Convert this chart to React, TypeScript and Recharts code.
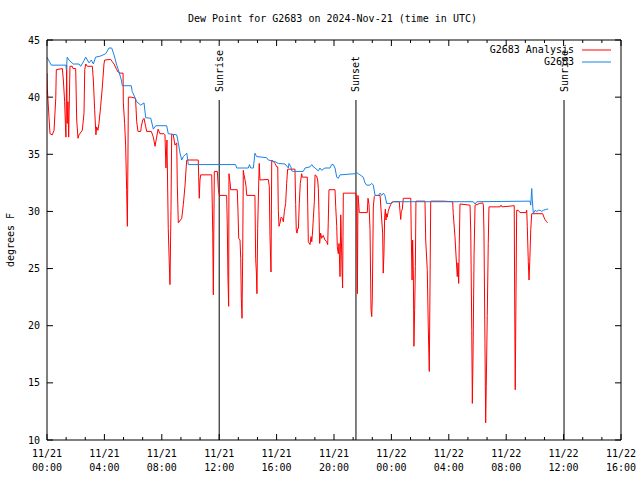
import React from 'react'
import { LineChart, Line, XAxis, YAxis, ReferenceLine, Legend } from 'recharts'

// hours since 2024-11-21 00:00 UTC
const analysisHours = [
  0, 0.02, 0.14, 0.21, 0.37, 0.49, 0.61, 0.65, 1.07, 1.14, 1.23, 1.28, 1.32, 1.37, 1.41, 1.46, 1.51, 1.6, 1.76, 1.81,
  2.0, 2.07, 2.16, 2.23, 2.46, 2.58, 2.63, 2.7, 2.81, 3.16, 3.23, 3.32, 3.41, 3.46, 3.55, 3.62, 3.74, 3.85, 3.97, 4.02,
  4.44, 4.55, 4.67, 4.86, 4.95, 5.09, 5.3, 5.32, 5.41, 5.48, 5.55, 5.6, 5.64, 5.67, 5.87, 6.17, 6.25, 6.34, 6.53, 6.57,
  6.67, 6.76, 6.88, 6.95, 7.27, 7.41, 7.53, 7.64, 7.74, 7.87, 8.15, 8.22, 8.29, 8.36, 8.45, 8.52, 8.57, 8.64, 8.69, 8.8,
  8.92, 9.04, 9.08, 9.15, 9.39, 9.5, 9.62, 9.69, 9.74, 10.54, 10.61, 10.66, 10.71, 11.48, 11.55, 11.59, 11.66, 11.87, 11.94, 12.01,
  12.52, 12.56, 12.61, 12.66, 12.68, 12.75, 12.8, 13.26, 13.31, 13.36, 13.45, 13.5, 13.54, 13.59, 13.64, 13.68, 13.73, 13.8, 13.87, 13.92,
  14.49, 14.54, 14.59, 14.63, 14.68, 14.75, 14.79, 14.84, 15.42, 15.49, 15.54, 15.61, 15.66, 15.77, 15.89, 16.01, 16.08, 16.12, 16.17, 16.24,
  16.31, 16.4, 16.47, 16.54, 16.63, 16.7, 16.77, 17.28, 17.33, 17.37, 17.42, 17.47, 17.52, 17.58, 17.65, 17.75, 17.79, 18.14, 18.17, 18.21,
  18.33, 18.4, 18.45, 18.49, 18.56, 18.63, 18.68, 18.79, 18.86, 18.91, 18.95, 19.0, 19.07, 19.14, 19.25, 19.37, 19.49, 19.56, 19.6, 19.65,
  20.07, 20.12, 20.19, 20.23, 20.3, 20.35, 20.42, 20.47, 20.51, 20.56, 20.6, 20.65, 21.53, 21.58, 21.63, 21.67, 21.72, 21.76, 22.32, 22.37,
  22.44, 22.51, 22.58, 22.63, 22.67, 22.74, 22.81, 22.86, 23.21, 23.39, 23.43, 23.48, 23.53, 23.58, 23.62, 23.67, 23.71, 23.78, 23.85, 23.95,
  24.02, 24.13, 24.55, 24.6, 24.65, 24.69, 24.76, 24.83, 25.35, 25.39, 25.44, 25.48, 25.53, 25.57, 25.62, 25.67, 25.71, 26.34, 26.39, 26.5,
  26.57, 26.64, 26.69, 26.74, 27.62, 28.27, 28.31, 28.43, 28.5, 28.59, 28.64, 28.69, 28.73, 28.78, 29.48, 29.53, 29.6, 29.64, 29.69, 29.76,
  29.83, 30.17, 30.36, 30.41, 30.45, 30.52, 30.57, 30.61, 30.68, 30.75, 30.8, 31.57, 31.64, 31.71, 32.56, 32.59, 32.63, 32.68, 32.73, 32.84,
  32.96, 33.38, 33.43, 33.47, 33.54, 33.59, 33.64, 33.71, 33.78, 34.54, 34.63, 34.7, 34.82, 34.89
]
const analysisValues = [
  42.1, 40.8, 38.2, 36.8, 36.7, 37.1, 39.9, 42.4, 42.5, 41.5, 39.6, 37.7, 36.5, 42.8, 37.7, 39.6, 36.5, 42.7, 42.7, 42.5,
  42.5, 38.0, 36.4, 36.7, 37.1, 38.6, 42.4, 42.9, 42.7, 42.7, 41.5, 38.9, 36.7, 37.4, 37.1, 37.7, 39.2, 40.8, 42.9, 43.25,
  43.3, 43.1, 42.9, 42.4, 42.2, 42.1, 42.1, 39.5, 37.7, 35.8, 31.9, 28.7, 34.5, 40.0, 40.0, 39.9, 37.85, 37.0, 37.0, 37.4,
  38.0, 38.15, 37.4, 37.0, 37.0, 36.5, 35.7, 36.5, 37.2, 36.8, 36.8, 36.7, 33.8, 36.25, 28.5, 25.5, 23.6, 30.1, 36.75, 36.7,
  35.8, 36.0, 32.3, 29.0, 29.4, 30.6, 32.3, 33.7, 34.5, 34.5, 31.15, 32.75, 33.2, 33.2, 28.1, 22.7, 33.5, 33.5, 32.0, 31.4,
  31.4, 29.0, 24.2, 21.7, 33.3, 32.6, 31.9, 31.9, 30.0, 27.65, 27.5, 25.9, 22.4, 20.65, 26.6, 33.6, 33.2, 32.75, 32.2, 31.4,
  31.4, 25.9, 24.7, 22.8, 28.5, 32.3, 34.2, 32.75, 32.8, 32.2, 27.8, 24.7, 34.5, 34.35, 34.2, 33.9, 33.9, 30.1, 28.7, 29.0,
  29.5, 29.4, 29.1, 30.0, 30.7, 32.45, 33.7, 33.7, 30.6, 28.4, 28.1, 28.5, 28.5, 30.7, 32.45, 33.3, 33.0, 33.0, 30.4, 27.35,
  27.1, 27.8, 27.35, 27.9, 29.4, 30.85, 33.2, 33.1, 32.75, 32.0, 30.1, 27.2, 28.1, 27.65, 27.9, 27.5, 27.35, 27.1, 29.0, 31.9,
  31.9, 30.4, 28.7, 26.9, 26.3, 27.2, 24.3, 29.7, 27.8, 24.9, 23.3, 31.6, 31.6, 30.85, 22.8, 31.4, 30.7, 29.9, 29.9, 31.15,
  30.6, 28.4, 21.4, 20.8, 22.5, 30.4, 31.3, 31.4, 31.4, 28.1, 24.6, 26.3, 29.5, 30.2, 29.25, 29.8, 29.5, 30.0, 30.3, 30.6,
  30.8, 30.85, 30.85, 30.0, 29.3, 30.0, 30.2, 31.15, 31.15, 27.5, 24.0, 27.5, 24.6, 18.2, 21.4, 25.2, 30.9, 30.9, 27.5, 24.9,
  19.9, 16.0, 23.4, 30.9, 30.9, 30.85, 29.8, 27.8, 26.2, 24.3, 25.5, 23.7, 27.1, 30.65, 30.55, 28.2, 19.6, 13.2, 17.6, 26.2,
  30.55, 30.7, 30.75, 30.55, 28.2, 18.5, 11.5, 14.7, 20.9, 27.2, 30.4, 30.4, 30.55, 30.4, 30.5, 22.5, 14.4, 22.25, 30.1, 30.1,
  29.9, 29.9, 30.1, 28.7, 25.6, 24.0, 25.5, 28.4, 29.8, 29.8, 29.5, 29.3, 29.1, 29.0
]

const stationHours = [
  0, 0.21, 0.3, 1.32, 1.35, 1.41, 1.53, 1.83, 2.23, 2.35, 2.58, 2.7, 2.93, 3.09, 3.23, 3.39, 3.74, 4.09, 4.32, 4.51,
  4.67, 4.86, 5.02, 5.18, 5.25, 5.87, 5.94, 6.25, 6.53, 6.76, 6.88, 7.23, 7.41, 7.58, 8.34, 8.45, 9.04, 9.15, 9.27, 9.39,
  9.5, 9.74, 9.85, 13.14, 13.22, 14.03, 14.11, 14.2, 14.38, 14.49, 14.61, 15.31, 15.42, 15.89, 16.12, 16.59, 16.82, 16.86, 17.0, 17.05,
  17.16, 17.86, 17.98, 18.33, 18.45, 18.56, 18.68, 18.91, 19.02, 19.14, 19.37, 19.72, 19.84, 19.95, 20.07, 20.19, 20.3, 20.42, 21.46, 21.58,
  21.69, 21.93, 22.04, 22.16, 22.28, 22.51, 22.63, 22.74, 22.86, 23.09, 23.21, 23.32, 23.44, 23.55, 23.62, 23.67, 24.02, 24.13, 29.71, 29.83,
  29.95, 33.66, 33.71, 33.78, 33.82, 33.89, 34.01, 34.13, 34.24, 34.36, 34.48, 34.59, 34.82, 34.93
]
const stationValues = [
  43.5, 43.0, 42.8, 42.8, 42.4, 43.5, 43.25, 42.9, 42.9, 42.7, 43.2, 43.5, 43.0, 43.25, 42.9, 43.5, 43.6, 43.8, 44.3, 44.3,
  43.7, 42.8, 42.2, 41.5, 41.0, 41.0, 40.5, 39.6, 39.3, 39.5, 38.2, 38.15, 37.2, 37.5, 37.5, 36.8, 36.7, 36.0, 35.1, 34.5,
  34.8, 35.1, 34.1, 34.1, 33.8, 33.8, 34.1, 33.8, 33.8, 35.1, 34.8, 34.7, 34.5, 34.35, 34.2, 34.15, 33.8, 34.2, 33.9, 33.55,
  33.5, 33.5, 33.8, 33.9, 34.1, 33.9, 33.8, 33.55, 33.8, 33.6, 33.8, 33.8, 34.1, 34.1, 33.8, 33.0, 32.9, 33.2, 33.3, 33.4,
  33.3, 33.1, 33.0, 32.5, 32.3, 32.3, 32.45, 32.3, 31.4, 31.4, 31.6, 31.4, 31.6, 31.4, 31.0, 30.7, 30.7, 30.85, 30.85, 30.65,
  30.85, 30.9, 30.55, 32.0, 31.0, 29.8, 30.1, 30.0, 30.1, 30.1, 30.0, 30.1, 30.2, 30.2
]

const events = [
  { name: 'Sunrise', hour: 12.0 },
  { name: 'Sunset', hour: 21.53 },
  { name: 'Sunrise', hour: 36.03 },
]
const eventTop = 39.75

const seriesNames = ['G2683 Analysis', 'G2683']
const majorTicks = [0, 4, 8, 12, 16, 20, 24, 28, 32, 36, 40]
const minorTicks = Array.from({ length: 31 }, (_, i) => (i * 4) / 3)
const dateLabels = ['11/21', '11/21', '11/21', '11/21', '11/21', '11/21', '11/22', '11/22', '11/22', '11/22', '11/22']
const timeLabels = ['00:00', '04:00', '08:00', '12:00', '16:00', '20:00', '00:00', '04:00', '08:00', '12:00', '16:00']
const yTicks = [10, 15, 20, 25, 30, 35, 40, 45]

const X_MIN = 0
const X_MAX = 40
const Y_MIN = 10
const Y_MAX = 45

const analysisData = analysisHours.map((h, i) => ({ h, v: analysisValues[i] }))
const stationData = stationHours.map((h, i) => ({ h, v: stationValues[i] }))

const FONT = '"DejaVu Sans Mono", "Liberation Mono", monospace'
const RED = '#ff0000'
const BLUE = '#1a82e6'

// inward tick lengths, expressed in axis units (plot is 574 x 400 px)
const xUnitPerPx = (X_MAX - X_MIN) / 574
const yUnitPerPx = (Y_MAX - Y_MIN) / 400
const MAJOR = 6
const MINOR = 3

const TimeTick = ({ x, y, payload }: any) => {
  const i = majorTicks.indexOf(payload.value)
  return (
    <g fontFamily={FONT} fontSize={10} fill="#000">
      <text x={x} y={y + 17} textAnchor="middle">{dateLabels[i]}</text>
      <text x={x} y={y + 31} textAnchor="middle">{timeLabels[i]}</text>
    </g>
  )
}

const EventLabel = ({ viewBox, text }: any) => {
  if (!viewBox) return null
  const x = viewBox.x
  const y = viewBox.y - 8
  return (
    <text x={x} y={y} transform={`rotate(-90 ${x} ${y})`} fontFamily={FONT} fontSize={10}
      fill="#000" textAnchor="start" dominantBaseline="central">{text}</text>
  )
}

const renderLegend = (props: any) => {
  const payload = [...props.payload].sort((a: any, b: any) => seriesNames.indexOf(a.value) - seriesNames.indexOf(b.value))
  return (
    <div style={{ position: 'absolute', left: 400, top: 44, width: 212, fontFamily: FONT, fontSize: 10, lineHeight: '12px' }}>
      {payload.map((entry: any) => (
        <div key={entry.value} style={{ display: 'flex', justifyContent: 'flex-end', alignItems: 'center', height: 12 }}>
          <span style={{ color: '#000' }}>{entry.value}</span>
          <svg width={38} height={12}>
            <line x1={8} y1={6} x2={37} y2={6} stroke={entry.color} strokeWidth={1} />
          </svg>
        </div>
      ))}
    </div>
  )
}

export default function App() {
  // gnuplot-style frame: inward ticks on all four sides
  const frameTicks: any[] = []
  minorTicks.forEach((t, i) => {
    const len = (majorTicks.includes(t) ? MAJOR : MINOR) * yUnitPerPx
    frameTicks.push([{ x: t, y: Y_MIN }, { x: t, y: Y_MIN + len }])
    frameTicks.push([{ x: t, y: Y_MAX }, { x: t, y: Y_MAX - len }])
  })
  yTicks.forEach((v) => {
    const len = MAJOR * xUnitPerPx
    frameTicks.push([{ x: X_MIN, y: v }, { x: X_MIN + len, y: v }])
    frameTicks.push([{ x: X_MAX, y: v }, { x: X_MAX - len, y: v }])
  })

  return (
    <div style={{ position: 'absolute', left: 0, top: 0, width: 640, height: 480, background: '#fff' }}>
      <div style={{ position: 'absolute', left: 0, top: 13, width: 665, textAlign: 'center', fontFamily: FONT, fontSize: 10, lineHeight: '12px', color: '#000' }}>
        Dew Point for G2683 on 2024-Nov-21 (time in UTC)
      </div>
      <LineChart width={640} height={480} data={analysisData} margin={{ top: 40, right: 19, bottom: 0, left: 0 }}>
        <XAxis xAxisId="x" type="number" dataKey="h" domain={[X_MIN, X_MAX]} ticks={majorTicks} interval={0}
          height={40} tickSize={0} tickMargin={0} tickLine={false} axisLine={{ stroke: '#000' }}
          tick={<TimeTick />} allowDataOverflow />
        <YAxis yAxisId="y" type="number" domain={[Y_MIN, Y_MAX]} ticks={yTicks} interval={0} width={47}
          tickSize={0} tickMargin={7} tickLine={false} axisLine={{ stroke: '#000' }}
          tick={{ fontFamily: FONT, fontSize: 10, fill: '#000' }} allowDataOverflow
          label={{
            content: ({ viewBox }: any) => (
              <text x={10} y={viewBox.y + viewBox.height / 2} transform={`rotate(-90 10 ${viewBox.y + viewBox.height / 2})`}
                textAnchor="middle" dominantBaseline="central" fontFamily={FONT} fontSize={10} fill="#000">degrees F</text>
            ),
          }} />

        <ReferenceLine xAxisId="x" yAxisId="y" y={Y_MAX} stroke="#000" strokeWidth={1} />
        <ReferenceLine xAxisId="x" yAxisId="y" x={X_MAX} stroke="#000" strokeWidth={1} />
        {frameTicks.map((seg, i) => (
          <ReferenceLine key={`t${i}`} xAxisId="x" yAxisId="y" segment={seg} stroke="#000" strokeWidth={1} />
        ))}

        {events.map((ev, i) => (
          <ReferenceLine key={i} xAxisId="x" yAxisId="y" segment={[{ x: ev.hour, y: Y_MIN }, { x: ev.hour, y: eventTop }]}
            stroke="#000" strokeWidth={1} label={<EventLabel text={ev.name} />} />
        ))}

        <Line xAxisId="x" yAxisId="y" dataKey="v" name="G2683 Analysis" type="linear"
          stroke={RED} strokeWidth={1} dot={false} isAnimationActive={false} />
        <Line xAxisId="x" yAxisId="y" data={stationData} dataKey="v" name="G2683" type="linear"
          stroke={BLUE} strokeWidth={1} dot={false} isAnimationActive={false} />

        <Legend layout="horizontal" verticalAlign="middle" align="center" content={renderLegend}
          wrapperStyle={{ position: 'absolute', left: 0, top: 0, width: 0, height: 0 }} />
      </LineChart>
    </div>
  )
}
